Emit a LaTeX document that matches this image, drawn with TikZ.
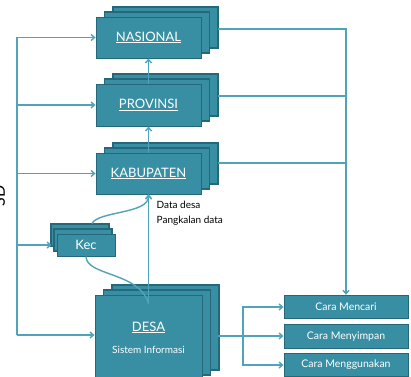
\documentclass[tikz,border=0pt]{standalone}
\usepackage{fontspec}
\setmainfont{Lato}
\usetikzlibrary{shadows,arrows.meta}
\definecolor{boxfill}{RGB}{56,143,163}
\definecolor{boxline}{RGB}{38,104,122}
\definecolor{linkcol}{RGB}{80,163,184}
\tikzset{every path/.style={line width=1.4pt}, level/.style={draw=boxline, fill=boxfill, line width=0.9pt, text=white, inner sep=1pt, font=\fontsize{13}{14}\selectfont}, stackR/.style={double copy shadow={shadow xshift=8.5pt, shadow yshift=5pt}}, stackL/.style={double copy shadow={shadow xshift=-3pt, shadow yshift=5pt}}, cara/.style={level, minimum width=124pt, minimum height=23.5pt, font=\fontsize{10.5}{12}\selectfont}, link/.style={draw=linkcol, -{Straight Barb[length=3.5pt,width=6pt]}}, wire/.style={draw=linkcol}}

\begin{document}
\begin{tikzpicture}[x=1pt,y=-1pt]
  \useasboundingbox (0,0) rectangle (411,376);
  \node[rotate=90, anchor=south, font=\fontsize{16}{16}\selectfont] (title) at (9,196) {SD};
  \node[level, stackR, minimum width=105pt, minimum height=41pt] (nas) at (148.5,37.5) {\underline{NASIONAL}};
  \node[level, stackR, minimum width=105pt, minimum height=42pt] (prov) at (148.5,105) {\underline{PROVINSI}};
  \node[level, stackR, minimum width=105pt, minimum height=41pt] (kab) at (148.5,173.5) {\underline{KABUPATEN}};
  \node[level, stackL, minimum width=58pt, minimum height=22pt] (kec) at (86,245) {Kec};
  \node[level, stackR, minimum width=107pt, minimum height=85pt, align=center] (desa) at (148.5,337.5)
       {\underline{DESA}\\[8pt]{\fontsize{10}{12}\selectfont Sistem Informasi}};
  \node[cara] (mencari) at (346,307) {Cara Mencari};
  \node[cara] (menyimpan) at (346,336.5) {Cara Menyimpan};
  \node[cara] (menggunakan) at (346,365) {Cara Menggunakan};
  \node[anchor=north west, align=left, inner sep=0pt, font=\fontsize{10}{15}\selectfont] (data) at (156,200) {Data desa\\Pangkalan data};

  \coordinate (trunk) at (17,335);
  \draw[link] (trunk) |- (nas);
  \draw[link] (trunk) |- (prov);
  \draw[link] (trunk) |- (kab);
  \draw[link] (trunk) |- ([xshift=-5pt]kec.west);
  \draw[link] (trunk) -- (trunk -| desa.west);

  \draw[link] (prov) -- (nas);
  \draw[link] (kab) -- (prov);
  \coordinate (desaTop) at ([yshift=-9pt]desa.north);
  \draw[link] (desaTop) -- (kab.south);
  \draw[link] ([shift={(6,-10)}]kec.north) .. controls (98,211) and (149,214) .. (kab.south);
  \draw[wire] (kec.south) .. controls (86,276) and (140,272) .. (desaTop);

  \coordinate (nasR) at ([shift={(17,-8.5)}]nas.east);
  \coordinate (provR) at ([shift={(17,-9)}]prov.east);
  \coordinate (kabR) at ([shift={(17,-10.5)}]kab.east);
  \draw[link] (nasR) -| (mencari.north);
  \draw[wire] (provR) -- (provR -| mencari.north);
  \draw[wire] (kabR) -- (kabR -| mencari.north);

  \coordinate (desaR) at ([shift={(16,-1.5)}]desa.east);
  \coordinate (fork) at (243,336);
  \draw[link] (desaR) -- (desaR -| menyimpan.west);
  \draw[link] (fork) |- (mencari);
  \draw[link] (fork) |- (menggunakan);
\end{tikzpicture}
\end{document}
